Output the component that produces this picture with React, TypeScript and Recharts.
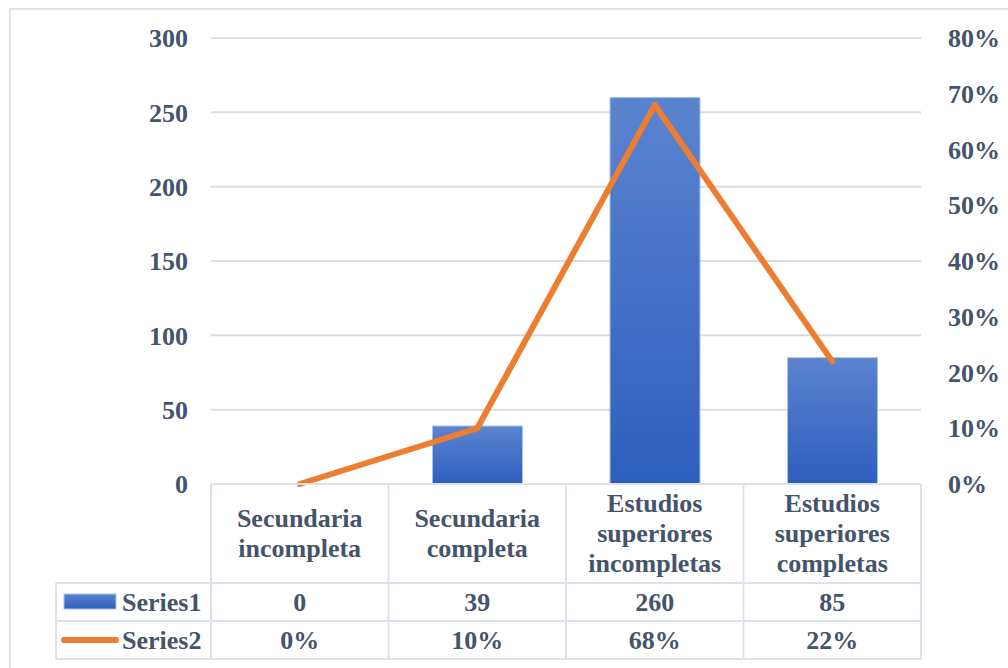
import { ComposedChart, Bar, Line, XAxis, YAxis, CartesianGrid } from 'recharts';

const categories = [
  'Secundaria incompleta',
  'Secundaria completa',
  'Estudios superiores incompletas',
  'Estudios superiores completas',
];
const series1 = [0, 39, 260, 85];
const series2 = [0, 0.1, 0.68, 0.22];
const leftTicks = [0, 50, 100, 150, 200, 250, 300];
const rightTicks = [0, 0.1, 0.2, 0.3, 0.4, 0.5, 0.6, 0.7, 0.8];

const data = categories.map((name, i) => ({
  name,
  s1: series1[i],
  s2: series2[i],
}));

const TEXT = '#44546a';
const BORDER = '#dde2ea';
const FONT = '"Liberation Serif", "Times New Roman", serif';
const BAND = 710 / categories.length;

// header row 99px, two value rows of 38px
const ROW0 = 99;
const ROW = 38;

function TableTick(props: any) {
  const { x, y, index, payload } = props;
  const lines: string[] = String(payload.value).split(' ');
  const left = x - BAND / 2;
  const right = x + BAND / 2;
  const y1 = y + ROW0;
  const y2 = y1 + ROW;
  const y3 = y2 + ROW;
  const ts = { fontFamily: FONT, fontWeight: 700, fontSize: 26, fill: TEXT };
  return (
    <g>
      <line x1={right} x2={right} y1={y} y2={y3} stroke={BORDER} strokeWidth={2} />
      {[y1, y2, y3].map((yy) => (
        <line key={yy} x1={left} x2={right} y1={yy} y2={yy} stroke={BORDER} strokeWidth={2} />
      ))}
      {lines.map((l, i) => (
        <text
          key={i}
          x={x}
          y={y + ROW0 / 2 + (i - (lines.length - 1) / 2) * 30}
          textAnchor="middle"
          dominantBaseline="central"
          {...ts}
        >
          {l}
        </text>
      ))}
      <text x={x} y={y1 + ROW / 2} textAnchor="middle" dominantBaseline="central" {...ts}>
        {series1[index]}
      </text>
      <text x={x} y={y2 + ROW / 2} textAnchor="middle" dominantBaseline="central" {...ts}>
        {Math.round(series2[index] * 100)}%
      </text>
      {index === 0 && (
        <g>
          <line x1={left} x2={left} y1={y} y2={y3} stroke={BORDER} strokeWidth={2} />
          <line x1={56} x2={56} y1={y1} y2={y3} stroke={BORDER} strokeWidth={2} />
          {[y1, y2, y3].map((yy) => (
            <line key={yy} x1={56} x2={left} y1={yy} y2={yy} stroke={BORDER} strokeWidth={2} />
          ))}
          <rect x={64} y={y1 + 11} width={52} height={15} fill="url(#barGrad)" stroke="#a9c1ea" strokeWidth={1} />
          <text x={122} y={y1 + ROW / 2} dominantBaseline="central" {...ts}>Series1</text>
          <line x1={64} x2={116} y1={y2 + ROW / 2} y2={y2 + ROW / 2} stroke="#ed7d31" strokeWidth={6} strokeLinecap="round" />
          <text x={122} y={y2 + ROW / 2} dominantBaseline="central" {...ts}>Series2</text>
        </g>
      )}
    </g>
  );
}

export default function App() {
  const tickStyle = { fontFamily: FONT, fontWeight: 700, fontSize: 26, fill: TEXT };
  return (
    <div style={{ position: 'absolute', left: 0, top: 0, width: 1008, height: 668, background: 'white', overflow: 'hidden' }}>
      <div
        style={{
          position: 'absolute',
          left: 9,
          top: 8,
          width: 1010,
          height: 670,
          border: '2px solid #dfe3ea',
        }}
      />
      <div style={{ position: 'absolute', left: 0, top: 0 }}>
        <ComposedChart
          width={1008}
          height={668}
          data={data}
          margin={{ top: 38, right: 27, left: 151, bottom: 0 }}
          barCategoryGap={0}
        >
          <defs>
            <linearGradient id="barGrad" x1="0" y1="0" x2="0" y2="1">
              <stop offset="0%" stopColor="#5b84cf" />
              <stop offset="100%" stopColor="#2d5fbe" />
            </linearGradient>
          </defs>
          <CartesianGrid vertical={false} stroke="#d9dce3" strokeWidth={2} yAxisId="left" />
          <XAxis
            dataKey="name"
            height={184}
            interval={0}
            tickLine={false}
            tickSize={0}
            tickMargin={0}
            axisLine={{ stroke: BORDER, strokeWidth: 2 }}
            tick={<TableTick />}
          />
          <YAxis
            yAxisId="left"
            domain={[0, 300]}
            ticks={leftTicks}
            width={60}
            axisLine={false}
            tickLine={false}
            tickMargin={17}
            tick={tickStyle}
          />
          <YAxis
            yAxisId="right"
            orientation="right"
            domain={[0, 0.8]}
            ticks={rightTicks}
            width={60}
            axisLine={false}
            tickLine={false}
            tickMargin={21}
            tick={{ ...tickStyle, textAnchor: 'start' }}
            tickFormatter={(v: number) => `${Math.round(v * 100)}%`}
          />
          <Bar
            yAxisId="left"
            dataKey="s1"
            barSize={90}
            fill="url(#barGrad)"
            stroke="#a9c1ea"
            strokeWidth={1}
            isAnimationActive={false}
          />
          <Line
            yAxisId="right"
            dataKey="s2"
            type="linear"
            stroke="#ed7d31"
            strokeWidth={6}
            strokeLinejoin="round"
            strokeLinecap="round"
            dot={false}
            activeDot={false}
            isAnimationActive={false}
          />
        </ComposedChart>
      </div>
    </div>
  );
}
